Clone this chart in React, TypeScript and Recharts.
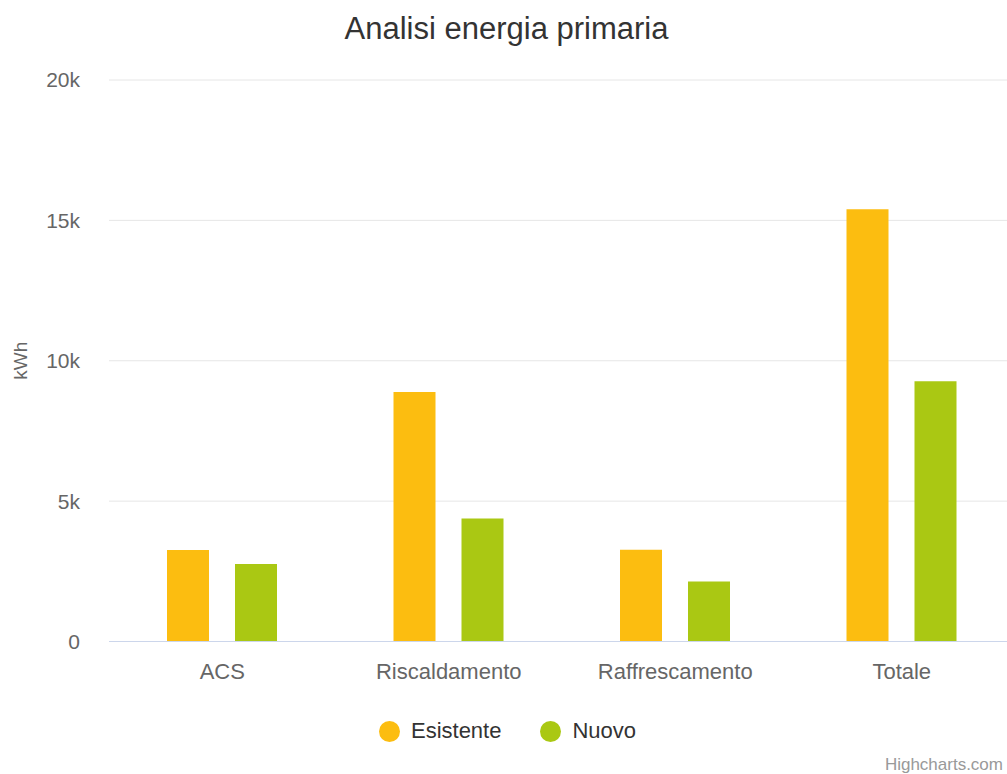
import React from "react";
import { BarChart, Bar, XAxis, YAxis, CartesianGrid, Legend } from "recharts";

const categories = ["ACS", "Riscaldamento", "Raffrescamento", "Totale"];
const esistente = [3260, 8890, 3270, 15400];
const nuovo = [2760, 4380, 2140, 9270];
const yTicks = [0, 5000, 10000, 15000, 20000];
const seriesNames = ["Esistente", "Nuovo"];
const seriesColors = ["#FCBD10", "#AAC813"];

const data = categories.map((c, i) => ({ name: c, Esistente: esistente[i], Nuovo: nuovo[i] }));

const FONT = "'Liberation Sans', Arial, Helvetica, sans-serif";

const fmt = (v: number) => (v === 0 ? "0" : `${v / 1000}k`);

const LegendContent = (props: any) => {
  const payload = props.payload || [];
  return (
    <div style={{ display: "flex", justifyContent: "center", alignItems: "center", height: 60, fontFamily: FONT }}>
      {payload.map((p: any, i: number) => (
        <div key={i} style={{ display: "flex", alignItems: "center", marginLeft: i === 0 ? 0 : 39 }}>
          <span style={{ width: 21, height: 21, borderRadius: "50%", background: p.color, display: "inline-block" }} />
          <span style={{ marginLeft: 11, fontSize: 22, color: "#333333" }}>{p.value}</span>
        </div>
      ))}
    </div>
  );
};

const YLabel = (props: any) => {
  const vb = props.viewBox || { x: 0, y: 0, width: 0, height: 0 };
  const cx = vb.x + 20;
  const cy = vb.y + vb.height / 2;
  return (
    <text x={cx} y={cy} transform={`rotate(-90 ${cx} ${cy})`} textAnchor="middle" dominantBaseline="central"
      fill="#666666" fontSize={19} fontFamily={FONT}>
      kWh
    </text>
  );
};

export default function App() {
  return (
    <div style={{ position: "absolute", left: 0, top: 0, width: 1007, height: 774, overflow: "hidden", background: "#fff" }}>
      <div style={{ position: "absolute", left: 0, top: 9, width: 1013, textAlign: "center", fontFamily: FONT, fontSize: 31, color: "#333333", lineHeight: "40px" }}>
        Analisi energia primaria
      </div>
      <BarChart width={1015} height={774} data={data} margin={{ top: 80, right: 0, bottom: 13, left: 0 }} barGap={26}>
        <CartesianGrid horizontal={true} vertical={false} stroke="#e6e6e6" />
        <XAxis dataKey="name" height={59.5} tickLine={false} tickSize={0} tickMargin={22}
          axisLine={{ stroke: "#ccd6eb" }} tick={{ fill: "#666666", fontSize: 22, fontFamily: FONT }} interval={0} />
        <YAxis width={109} domain={[0, 20000]} ticks={yTicks} tickFormatter={fmt} axisLine={false} tickLine={false}
          tickSize={0} tickMargin={29} tick={{ fill: "#666666", fontSize: 21, fontFamily: FONT }} label={<YLabel />} />
        <Legend verticalAlign="bottom" align="center" content={<LegendContent />} />
        <Bar dataKey="Esistente" name={seriesNames[0]} fill={seriesColors[0]} barSize={42} isAnimationActive={false} />
        <Bar dataKey="Nuovo" name={seriesNames[1]} fill={seriesColors[1]} barSize={42} isAnimationActive={false} />
      </BarChart>
      <div style={{ position: "absolute", right: 4, top: 755, fontFamily: FONT, fontSize: 17, color: "#999999", whiteSpace: "nowrap" }}>
        Highcharts.com
      </div>
    </div>
  );
}
